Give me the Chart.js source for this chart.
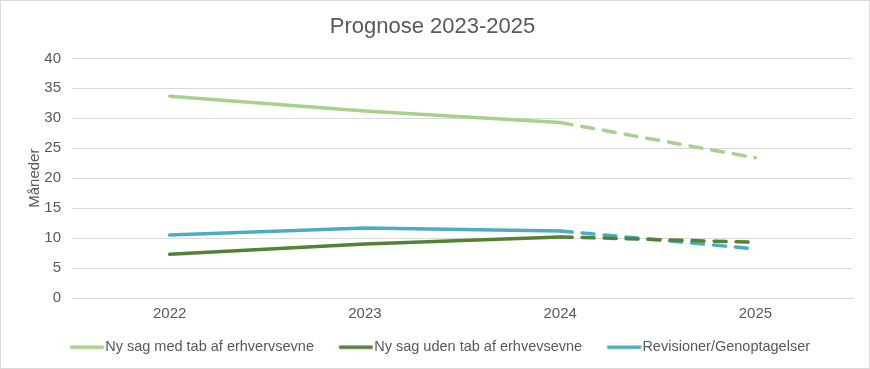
<!DOCTYPE html>
<html>
<head>
<meta charset="utf-8">
<script src="https://cdn.jsdelivr.net/npm/chart.js@4"></script>
<style>
  html, body { margin: 0; padding: 0; background: #fff; }
  #wrap { width: 868px; height: 367px; border: 1px solid #d9d9d9; }
</style>
</head>
<body>
<div id="wrap"><canvas id="chart" width="868" height="367"></canvas></div>
<script>
// Category labels and series values
const years = ['2022', '2023', '2024', '2025'];
const medTab = [33.7, 31.2, 29.3, 23.4];
const udenTab = [7.3, 9.0, 10.2, 9.3];
const revisioner = [10.5, 11.7, 11.2, 8.2];

const textColor = '#595959';
const gridColor = '#d9d9d9';
const fontFamily = '"Liberation Sans", Arial, sans-serif';

// last segment (2024 -> 2025) is the forecast, drawn dashed
const forecastDash = ctx => ctx.p0DataIndex >= 2 ? [12, 10] : undefined;

// legend marker: short line sitting right up against the label text
function legendLine(color) {
  const c = document.createElement('canvas');
  c.width = 56;
  c.height = 6;
  const g = c.getContext('2d');
  g.strokeStyle = color;
  g.lineWidth = 3.5;
  g.beginPath();
  g.moveTo(21.5, 3);
  g.lineTo(55.5, 3);
  g.stroke();
  return c;
}

function series(label, data, color) {
  return {
    label: label,
    data: data,
    borderColor: color,
    backgroundColor: color,
    borderWidth: 3.5,
    pointRadius: 0,
    pointStyle: legendLine(color),
    tension: 0,
    borderCapStyle: 'round',
    segment: { borderDash: forecastDash },
  };
}

new Chart(document.getElementById('chart').getContext('2d'), {
  type: 'line',
  data: {
    labels: years,
    datasets: [
      series('Ny sag med tab af erhvervsevne', medTab, '#a9d18e'),
      series('Ny sag uden tab af erhvevsevne', udenTab, '#548235'),
      series('Revisioner/Genoptagelser', revisioner, '#4bacc6'),
    ],
  },
  options: {
    responsive: false,
    animation: false,
    layout: { padding: { left: 11, right: 16, top: 6, bottom: 3.5 } },
    plugins: {
      title: {
        display: true,
        text: 'Prognose 2023-2025',
        color: textColor,
        font: { family: fontFamily, size: 22, weight: 'normal' },
        padding: { top: 7, bottom: 18 },
      },
      legend: {
        position: 'bottom',
        labels: {
          color: textColor,
          font: { family: fontFamily, size: 14.5 },
          usePointStyle: true,
          pointStyleWidth: 43,
          padding: 10,
        },
      },
      tooltip: { enabled: false },
    },
    scales: {
      x: {
        offset: true,
        grid: { display: false, drawTicks: false },
        border: { color: gridColor },
        ticks: { color: textColor, font: { family: fontFamily, size: 15 }, padding: 7 },
      },
      y: {
        min: 0,
        max: 40,
        afterFit: scale => { scale.width = 60; },
        ticks: { stepSize: 5, color: textColor, font: { family: fontFamily, size: 15 }, padding: 11 },
        grid: { color: gridColor, lineWidth: 1, drawTicks: false },
        border: { display: false },
        title: {
          display: true,
          text: 'Måneder',
          color: textColor,
          font: { family: fontFamily, size: 15 },
          padding: { top: 14, bottom: 0 },
        },
      },
    },
  },
});
</script>
</body>
</html>
